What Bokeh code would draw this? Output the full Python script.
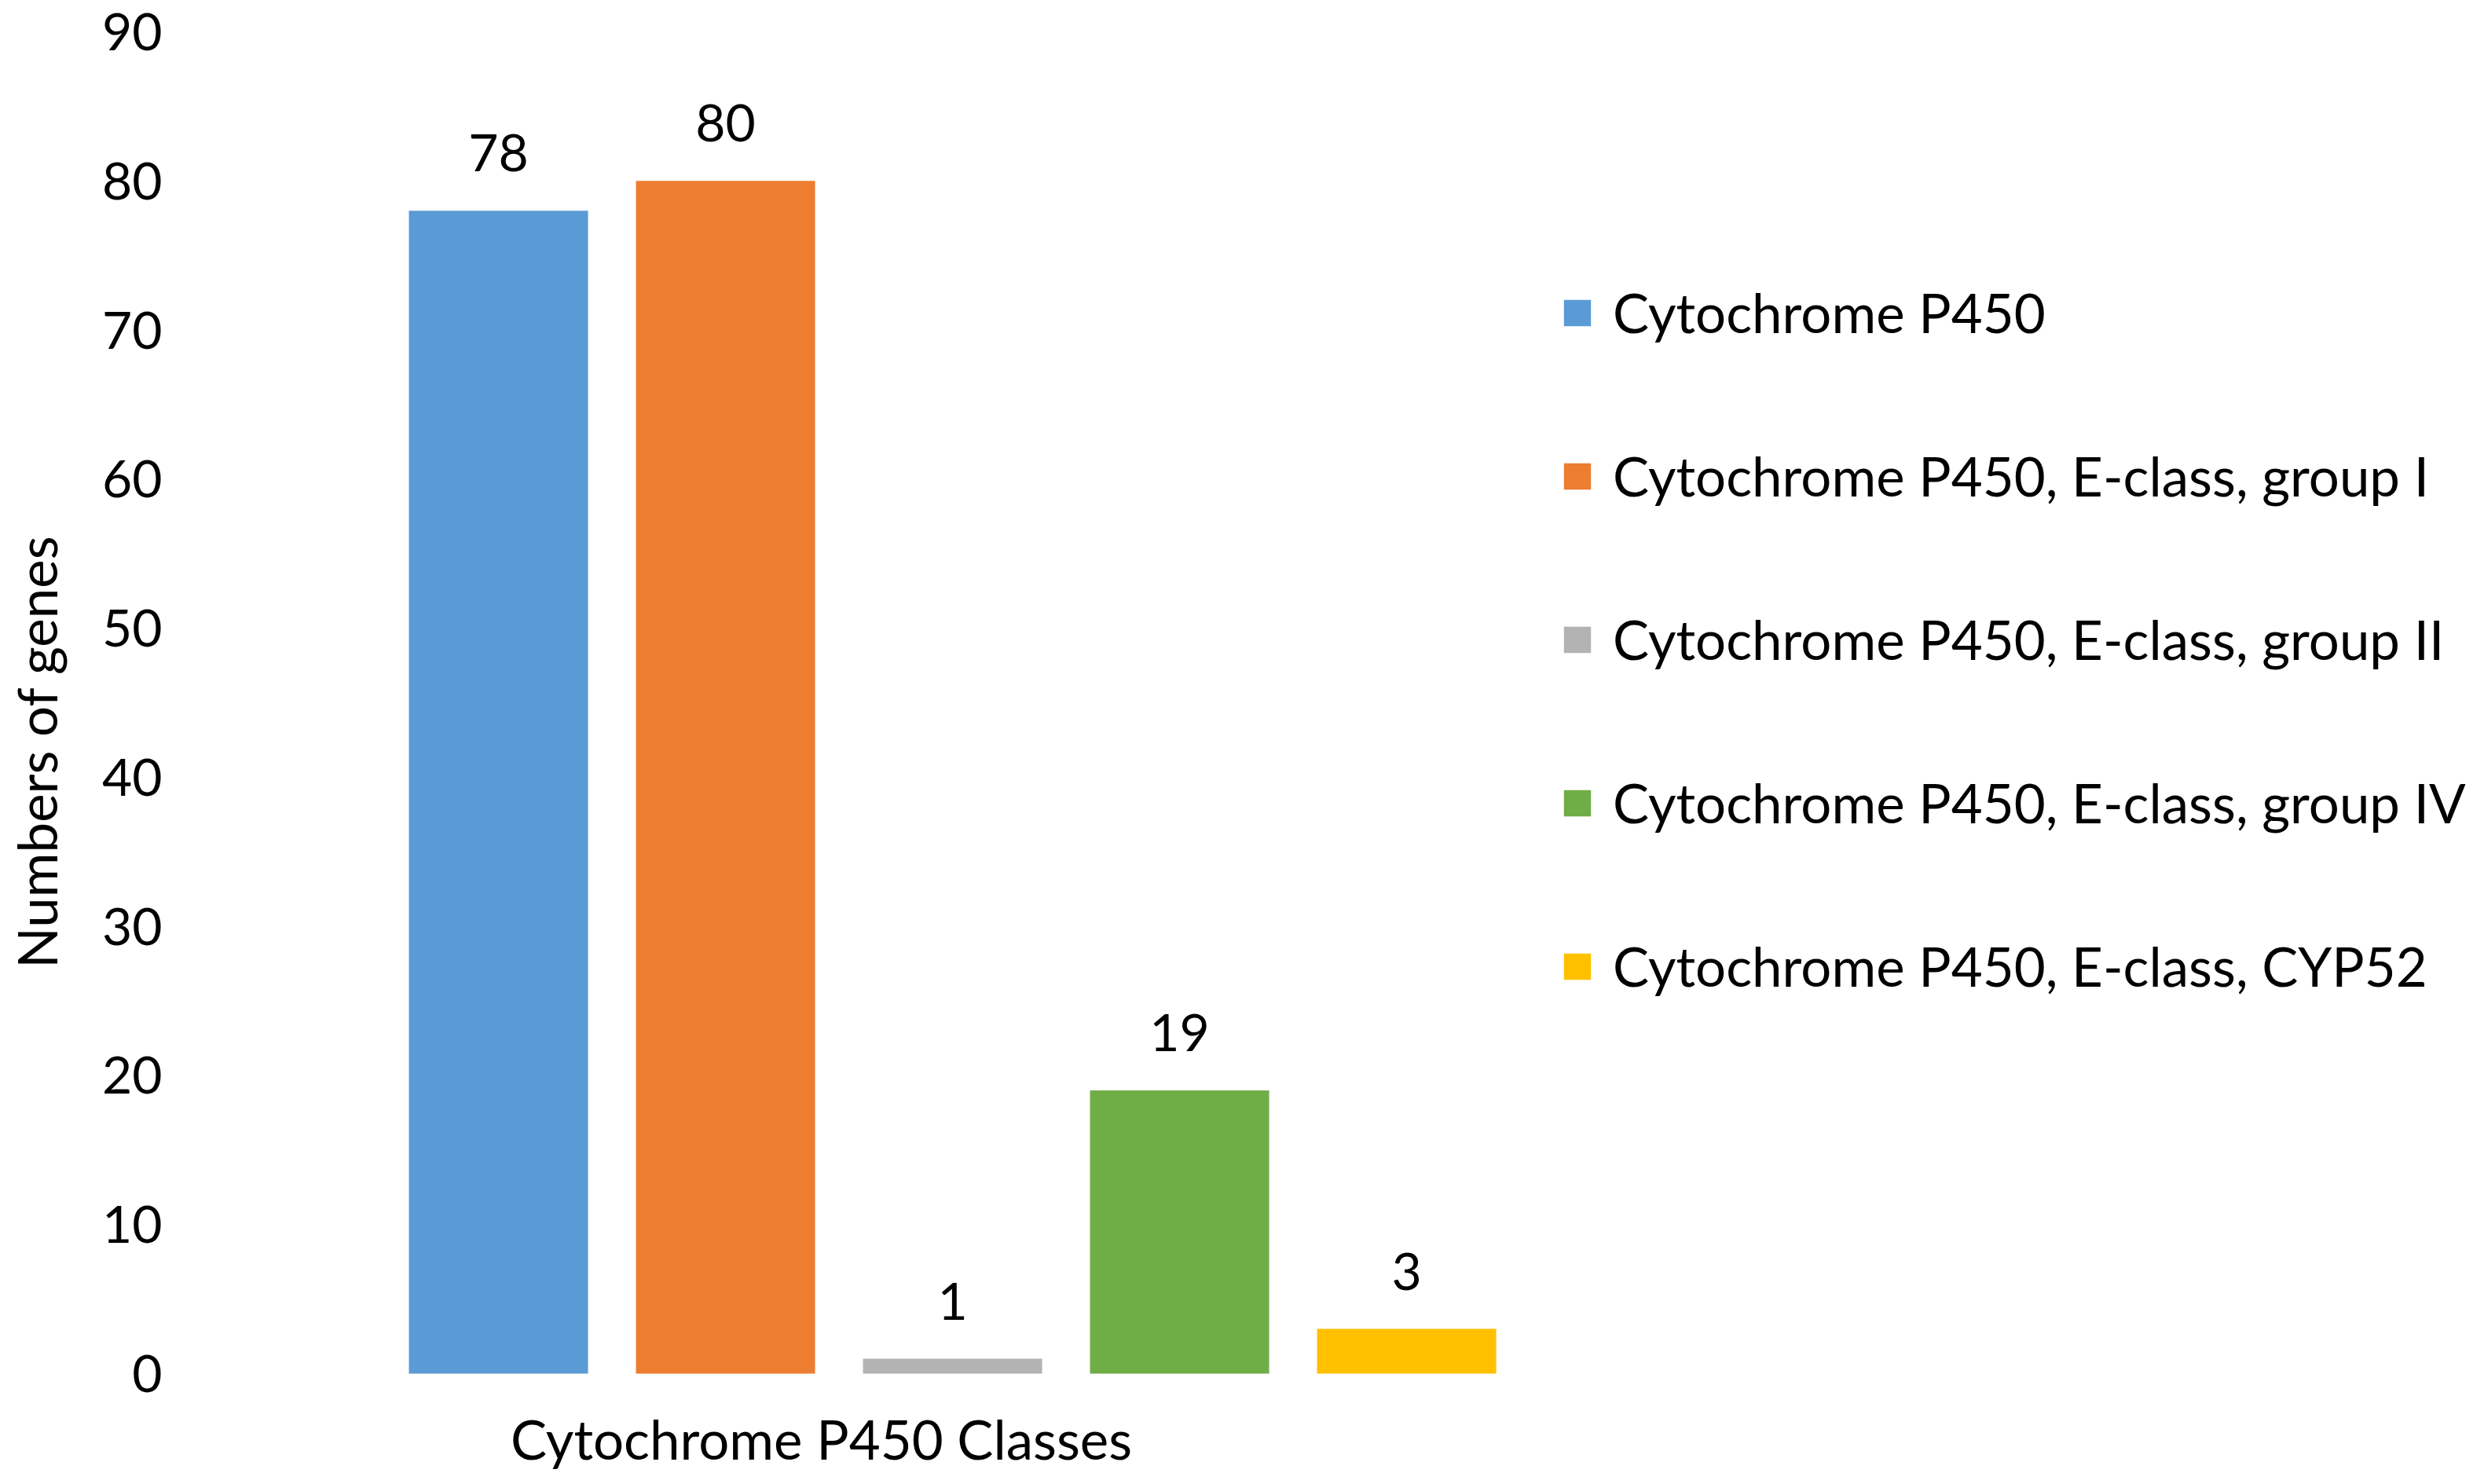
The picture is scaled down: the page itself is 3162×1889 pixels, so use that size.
from bokeh.plotting import figure
from bokeh.models import ColumnDataSource, LabelSet, Label, Legend, LegendItem, Range1d
from bokeh.core.properties import value
from bokeh.embed import file_html
from bokeh.resources import INLINE

series = ["Cytochrome P450",
          "Cytochrome P450, E-class, group I",
          "Cytochrome P450, E-class, group II",
          "Cytochrome P450, E-class, group IV",
          "Cytochrome P450, E-class, CYP52"]
counts = [78, 80, 1, 19, 3]
colors = ["#5B9BD5", "#ED7D31", "#B3B3B3", "#70AD47", "#FFC000"]
y_ticks = [0, 10, 20, 30, 40, 50, 60, 70, 80, 90]
x_title = "Cytochrome P450 Classes"
y_title = "Numbers of genes"

FONT = "Lato"
FS = "69px"
FS_TICK = "66px"
TXT = "#000000"

positions = list(range(len(series)))
src = ColumnDataSource(dict(x=positions, y=counts, color=colors, name=series,
                            lab=[str(c) for c in counts]))

# plot area extends below zero (down to the page bottom) like the Excel plot area
p = figure(frame_width=1680, frame_height=1833,
           x_range=Range1d(-1.398, 4.415), y_range=Range1d(-6.587, 90),
           x_axis_location=None,
           output_backend="svg", toolbar_location=None,
           min_border_left=230, min_border_top=40, min_border_bottom=0,
           min_border_right=56)
p.background_fill_color = "white"
p.border_fill_color = "white"
p.outline_line_color = None
p.xgrid.visible = False
p.ygrid.visible = False

r = p.vbar(x="x", top="y", bottom=0, width=0.789, color="color",
           line_color=None, source=src)
items = [LegendItem(label=series[i], renderers=[r], index=i) for i in positions]

labels = LabelSet(x="x", y="y", text="lab", source=src, text_align="center",
                  text_baseline="alphabetic", y_offset=50,
                  text_font=value(FONT), text_font_size=FS_TICK, text_color=TXT)
p.add_layout(labels)

xlab = Label(x=1.422, y=-4.4, text=x_title, text_align="center",
             text_baseline="middle", text_font=FONT, text_font_size=FS,
             text_color=TXT)
p.add_layout(xlab)

ya = p.yaxis[0]
ya.ticker = y_ticks
ya.axis_line_color = None
ya.major_tick_line_color = None
ya.minor_tick_line_color = None
ya.major_label_standoff = 18
ya.major_label_text_font = FONT
ya.major_label_text_font_size = FS_TICK
ya.major_label_text_color = TXT
ya.axis_label = y_title
ya.axis_label_text_font = FONT
ya.axis_label_text_font_size = FS
ya.axis_label_text_font_style = "normal"
ya.axis_label_text_color = TXT
ya.axis_label_standoff = 39

legend = Legend(items=items, location=(76, 602), orientation="vertical",
                glyph_width=43, glyph_height=42, label_height=42,
                label_standoff=24, spacing=125, padding=0, margin=0,
                border_line_color=None, background_fill_alpha=0,
                label_text_font=FONT, label_text_font_size=FS,
                label_text_color=TXT)
p.add_layout(legend, "right")

open("out.html", "w").write(file_html(p, INLINE))
